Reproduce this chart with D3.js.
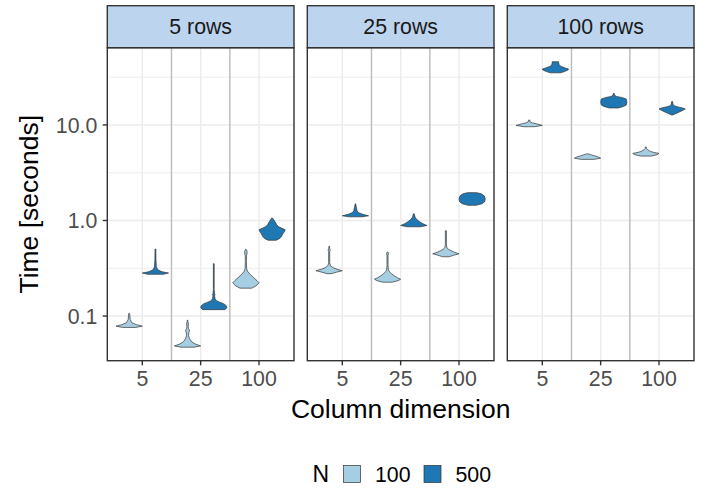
<!DOCTYPE html>
<html>
<head>
<meta charset="utf-8">
<script src="https://cdn.jsdelivr.net/npm/d3@7"></script>
<style>
  html, body { margin: 0; padding: 0; background: #ffffff; }
  svg { display: block; }
  text { font-family: "Liberation Sans", Arial, Helvetica, sans-serif; }
</style>
</head>
<body>
<svg id="chart" width="707" height="489"></svg>
<script>
// ---------------- DATA ----------------
const panels = ["5 rows", "25 rows", "100 rows"];
const columnDims = ["5", "25", "100"];
const nLevels = ["100", "500"];
const nColors = ["#A6CEE3", "#1F78B4"];
const yTickValues = [0.1, 1, 10];
const yTickLabels = ["0.1", "1.0", "10.0"];
const yMinorValues = [0.0316, 0.316, 3.16, 31.6];
const yDomain = [0.0341, 64.3];

// each violin: column dimension, N, and a density profile [seconds, relative half-width]
const violins5rows = [
  { col: "5", n: "100", profile: [[0.0760,0.5],[0.0784,1.0],[0.0813,0.55],[0.0853,0.2],[0.0917,0.08],[0.1009,0.05],[0.106,0.04]] },
  { col: "5", n: "500", profile: [[0.2735,0.6],[0.282,1.0],[0.291,0.5],[0.305,0.18],[0.328,0.07],[0.388,0.04],[0.503,0.03]] },
  { col: "25", n: "100", profile: [[0.0472,0.5],[0.0487,1.0],[0.0509,0.6],[0.0540,0.3],[0.0581,0.15],[0.0625,0.08],[0.0672,0.1],[0.0705,0.15],[0.0740,0.08],[0.0775,0.05],[0.0833,0.07],[0.0875,0.03],[0.0907,0.02]] },
  { col: "25", n: "500", profile: [[0.1167,0.85],[0.1225,1.0],[0.1285,0.95],[0.1349,0.75],[0.1397,0.45],[0.1449,0.2],[0.1520,0.1],[0.1634,0.06],[0.1674,0.1],[0.1714,0.06],[0.1888,0.03],[0.2401,0.03],[0.3531,0.03]] },
  { col: "100", n: "100", profile: [[0.1958,0.45],[0.2080,0.8],[0.2235,1.0],[0.2344,0.85],[0.2519,0.6],[0.2708,0.35],[0.2911,0.15],[0.3129,0.06],[0.3700,0.04],[0.4272,0.05],[0.4593,0.1],[0.4819,0.08],[0.5000,0.02]] },
  { col: "100", n: "500", profile: [[0.6210,0.3],[0.6440,0.55],[0.6757,0.7],[0.7265,0.82],[0.7710,0.95],[0.7996,1.0],[0.8289,0.75],[0.8590,0.5],[0.9017,0.35],[0.9692,0.22],[1.029,0.1],[1.059,0.03]] }
];
const violins25rows = [
  { col: "5", n: "100", profile: [[0.2773,0.15],[0.2876,0.55],[0.2980,1.0],[0.3091,0.6],[0.3206,0.3],[0.3363,0.1],[0.3615,0.04],[0.4711,0.04],[0.4883,0.08],[0.5063,0.04],[0.5375,0.02]] },
  { col: "5", n: "500", profile: [[1.093,0.5],[1.120,1.0],[1.161,0.55],[1.204,0.25],[1.263,0.12],[1.325,0.1],[1.374,0.07],[1.442,0.04],[1.495,0.02]] },
  { col: "25", n: "100", profile: [[0.2261,0.35],[0.2344,0.8],[0.2430,1.0],[0.2519,0.75],[0.2643,0.5],[0.2773,0.3],[0.2911,0.15],[0.3055,0.07],[0.3363,0.04],[0.4339,0.04],[0.4498,0.08],[0.4665,0.03]] },
  { col: "25", n: "500", profile: [[0.8594,0.5],[0.8867,1.0],[0.9237,0.7],[0.9692,0.45],[1.017,0.25],[1.067,0.12],[1.120,0.07],[1.175,0.03]] },
  { col: "100", n: "100", profile: [[0.4174,0.25],[0.4329,0.6],[0.4487,1.0],[0.4652,0.65],[0.4823,0.4],[0.5002,0.2],[0.5186,0.08],[0.5573,0.04],[0.7804,0.04]] },
  { col: "100", n: "500", profile: [[1.442,0.3],[1.495,0.75],[1.568,0.95],[1.686,1.0],[1.812,0.92],[1.901,0.7],[1.957,0.35]] }
];
const violins100rows = [
  { col: "5", n: "100", profile: [[9.576,0.4],[9.881,1.0],[10.24,0.6],[10.49,0.25],[10.75,0.08],[11.28,0.03]] },
  { col: "5", n: "500", profile: [[35.12,0.4],[36.23,0.7],[37.56,0.95],[38.48,1.0],[39.41,0.75],[40.87,0.45],[42.36,0.28],[44.45,0.25],[45.86,0.25]] },
  { col: "25", n: "100", profile: [[4.361,0.5],[4.487,1.0],[4.630,0.8],[4.744,0.55],[4.859,0.3],[4.978,0.08]] },
  { col: "25", n: "500", profile: [[15.05,0.35],[15.61,0.75],[16.18,0.95],[17.39,1.0],[18.70,0.95],[19.39,0.6],[19.86,0.2],[20.59,0.05],[21.45,0.03]] },
  { col: "100", n: "100", profile: [[4.720,0.4],[4.882,0.85],[5.037,1.0],[5.160,0.6],[5.285,0.35],[5.482,0.15],[5.683,0.05],[5.890,0.03]] },
  { col: "100", n: "500", profile: [[12.72,0.05],[13.19,0.3],[13.67,0.55],[14.18,0.8],[14.70,1.0],[15.05,0.8],[15.42,0.45],[15.79,0.2],[16.38,0.07],[17.60,0.03]] }
];
const panelViolins = [violins5rows, violins25rows, violins100rows];

// ---------------- LAYOUT ----------------
const W = 707, H = 489;
const panelLefts = [107.3, 307.3, 507.3];
const panelW = 186.7;
const stripTop = 5.7, panelTop = 47.7, panelBottom = 360.7;

const svg = d3.select("#chart");
svg.append("rect").attr("width", W).attr("height", H).attr("fill", "#ffffff");

const y = d3.scaleLog().domain(yDomain).range([panelBottom, panelTop]);
const colorN = d3.scaleOrdinal().domain(nLevels).range(nColors);

panels.forEach((pname, pi) => {
  const left = panelLefts[pi];
  const unit = panelW / 3.2;
  // band-like point scale for discrete x
  const x = d3.scalePoint().domain(columnDims).range([left + 0.6 * unit, left + panelW - 0.6 * unit]);
  const g = svg.append("g");

  // panel background
  g.append("rect").attr("x", left).attr("y", panelTop).attr("width", panelW)
    .attr("height", panelBottom - panelTop).attr("fill", "#ffffff");

  // minor horizontal gridlines
  g.selectAll(".minor").data(yMinorValues.filter(v => v > yDomain[0] && v < yDomain[1]))
    .enter().append("line")
    .attr("x1", left).attr("x2", left + panelW)
    .attr("y1", d => y(d)).attr("y2", d => y(d))
    .attr("stroke", "#EBEBEB").attr("stroke-width", 0.9);
  // major horizontal gridlines
  g.selectAll(".major").data(yTickValues).enter().append("line")
    .attr("x1", left).attr("x2", left + panelW)
    .attr("y1", d => y(d)).attr("y2", d => y(d))
    .attr("stroke", "#EBEBEB").attr("stroke-width", 1.4);
  // vertical major gridlines
  g.selectAll(".vmaj").data(columnDims).enter().append("line")
    .attr("x1", d => x(d)).attr("x2", d => x(d))
    .attr("y1", panelTop).attr("y2", panelBottom)
    .attr("stroke", "#EBEBEB").attr("stroke-width", 1.4);
  // separators between column groups
  const seps = [0.5 * (x(columnDims[0]) + x(columnDims[1])), 0.5 * (x(columnDims[1]) + x(columnDims[2]))];
  g.selectAll(".sep").data(seps).enter().append("line")
    .attr("x1", d => d).attr("x2", d => d)
    .attr("y1", panelTop).attr("y2", panelBottom)
    .attr("stroke", "#BEBEBE").attr("stroke-width", 1.5);

  // violins
  const halfMax = 0.45 * unit / 2;
  const dodge = 0.225 * unit;
  const area = d3.area()
    .curve(d3.curveLinear)
    .y(d => y(d[0]));
  panelViolins[pi].forEach(v => {
    const cx = x(v.col) + (v.n === nLevels[0] ? -dodge : dodge);
    area.x0(d => cx - d[1] * halfMax).x1(d => cx + d[1] * halfMax);
    g.append("path").attr("d", area(v.profile))
      .attr("fill", colorN(v.n))
      .attr("stroke", "#333333").attr("stroke-width", 0.7)
      .attr("stroke-linejoin", "round");
  });

  // panel border
  g.append("rect").attr("x", left).attr("y", panelTop).attr("width", panelW)
    .attr("height", panelBottom - panelTop).attr("fill", "none")
    .attr("stroke", "#333333").attr("stroke-width", 1.4);

  // strip
  g.append("rect").attr("x", left).attr("y", stripTop).attr("width", panelW)
    .attr("height", panelTop - stripTop).attr("fill", "#BCD4EE")
    .attr("stroke", "#333333").attr("stroke-width", 1.4);
  g.append("text").attr("x", left + panelW / 2).attr("y", (stripTop + panelTop) / 2)
    .attr("dy", "0.36em").attr("text-anchor", "middle")
    .attr("font-size", 21.3).attr("fill", "#1A1A1A").text(pname);

  // x axis ticks and labels
  const xa = g.append("g");
  xa.selectAll("line").data(columnDims).enter().append("line")
    .attr("x1", d => x(d)).attr("x2", d => x(d))
    .attr("y1", panelBottom).attr("y2", panelBottom + 4.6)
    .attr("stroke", "#333333").attr("stroke-width", 1.4);
  xa.selectAll("text").data(columnDims).enter().append("text")
    .attr("x", d => x(d)).attr("y", 386)
    .attr("text-anchor", "middle").attr("font-size", 21.3).attr("fill", "#4D4D4D")
    .text(d => d);

  // y axis on first panel only
  if (pi === 0) {
    const ya = g.append("g");
    ya.selectAll("line").data(yTickValues).enter().append("line")
      .attr("x1", left - 4.6).attr("x2", left)
      .attr("y1", d => y(d)).attr("y2", d => y(d))
      .attr("stroke", "#333333").attr("stroke-width", 1.4);
    ya.selectAll("text").data(yTickValues).enter().append("text")
      .attr("x", left - 10).attr("y", d => y(d)).attr("dy", "0.36em")
      .attr("text-anchor", "end").attr("font-size", 21.3).attr("fill", "#4D4D4D")
      .text((d, i) => yTickLabels[i]);
  }
});

// axis titles
svg.append("text")
  .attr("transform", `translate(38, ${(panelTop + panelBottom) / 2}) rotate(-90)`)
  .attr("text-anchor", "middle").attr("font-size", 26.5).attr("fill", "#000000")
  .text("Time [seconds]");
svg.append("text")
  .attr("x", (panelLefts[0] + panelLefts[2] + panelW) / 2).attr("y", 418)
  .attr("text-anchor", "middle").attr("font-size", 26.5).attr("fill", "#000000")
  .text("Column dimension");

// legend
const lg = svg.append("g");
const legendY = 474;
lg.append("text").attr("x", 312.5).attr("y", legendY).attr("dy", "0.36em")
  .attr("font-size", 23).attr("fill", "#000000").text("N");
const legendItems = [{ n: nLevels[0], sx: 343.5, tx: 375 }, { n: nLevels[1], sx: 424, tx: 455.5 }];
legendItems.forEach(it => {
  lg.append("rect").attr("x", it.sx).attr("y", legendY - 8.5).attr("width", 17).attr("height", 17)
    .attr("fill", colorN(it.n)).attr("stroke", "#333333").attr("stroke-width", 0.7);
  lg.append("text").attr("x", it.tx).attr("y", legendY).attr("dy", "0.36em")
    .attr("font-size", 21.3).attr("fill", "#000000").text(it.n);
});
</script>
</body>
</html>
